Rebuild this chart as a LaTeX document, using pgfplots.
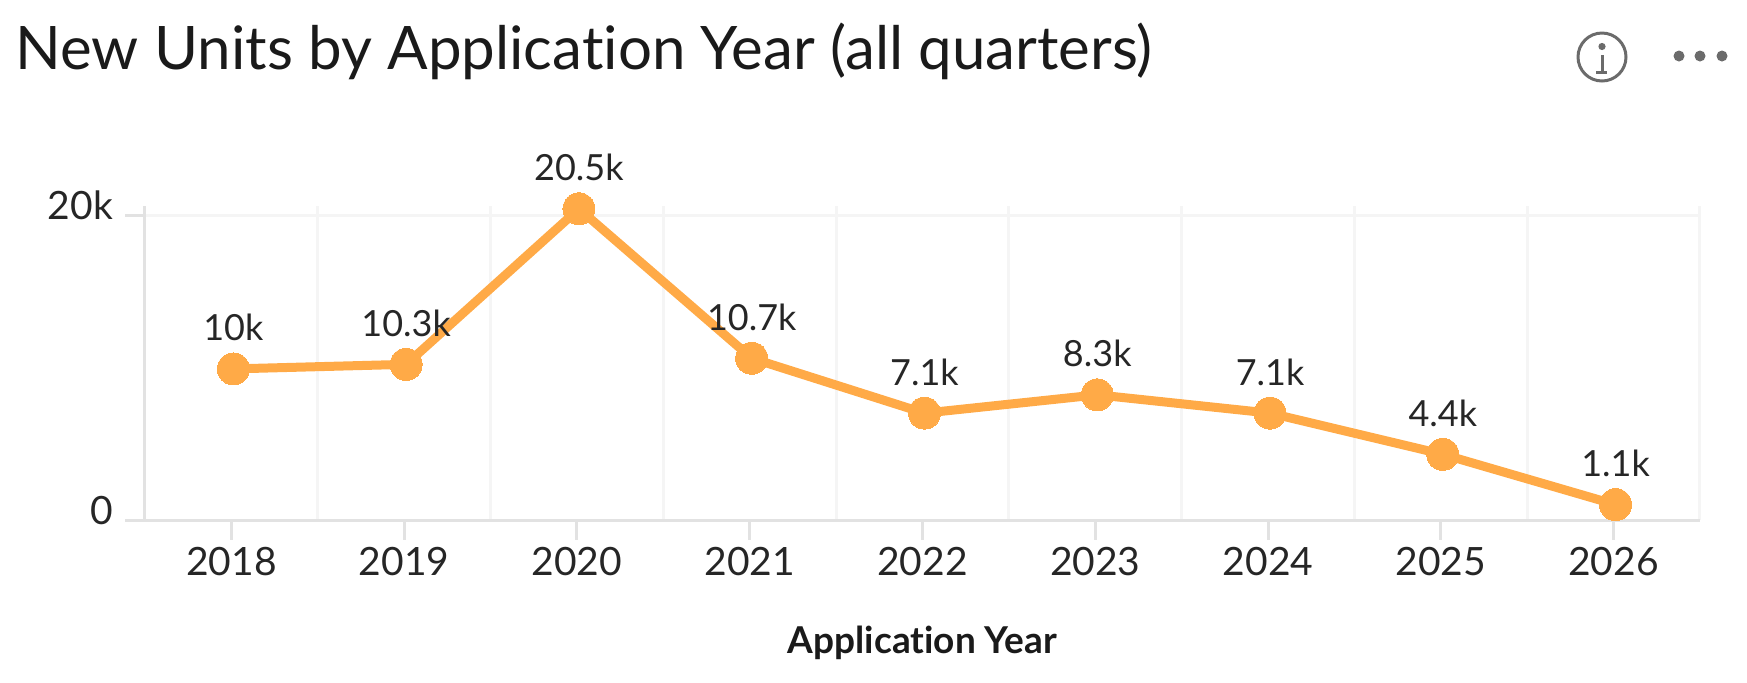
\documentclass[border=0pt]{standalone}
\usepackage{fontspec}
\setmainfont{Lato}[RawFeature=-liga]
\usepackage{pgfplots}
\pgfplotsset{compat=1.18}

\definecolor{lineorange}{HTML}{FFAA47}
\definecolor{axisgray}{HTML}{E2E2E2}
\definecolor{gridgray}{HTML}{F5F5F5}
\definecolor{textdark}{HTML}{1A1A1A}
\definecolor{labeldark}{HTML}{262626}
\definecolor{icongray}{HTML}{6B6B6B}

\begin{document}
% 1 px of the reference = 0.5pt, y runs downwards in the picture coordinates
\begin{tikzpicture}[x=0.5pt, y=-0.5pt]
    \useasboundingbox (0,0) rectangle (1747,682);
    \begin{axis}[
        at={(72.5pt,-260pt)}, anchor=south west,
        scale only axis=true, width=777.5pt, height=157pt,
        xmin=-0.5, xmax=8.5, ymin=0, ymax=20590,
        axis x line=bottom, axis y line=left,
        axis line style={draw=axisgray, line width=1.5pt, -},
        xtick={0,1,2,3,4,5,6,7,8},
        xticklabels={2018,2019,2020,2021,2022,2023,2024,2025,2026},
        minor xtick={0.5,1.5,2.5,3.5,4.5,5.5,6.5,7.5,8.5},
        ytick={0,20000},
        yticklabels={0,20k},
        scaled y ticks=false,
        tick align=outside,
        major tick length=10pt, minor tick length=0pt,
        major tick style={draw=axisgray, line width=1.5pt},
        xminorgrids=true, ymajorgrids=true,
        minor grid style={draw=gridgray, line width=1.5pt},
        major grid style={draw=gridgray, line width=1.5pt},
        tick label style={font=\fontsize{19.5}{20}\selectfont, text=labeldark},
        x tick label style={anchor=base, yshift=-17.5pt},
        y tick label style={anchor=base east, yshift=-2pt, xshift=-2.5pt},
        title={New Units by Application Year (all quarters)},
        title style={at={(axis description cs:-0.0835,1.395)}, anchor=base west,
            font=\fontsize{30}{32}\selectfont, text=textdark, inner sep=0pt},
        xlabel={\textbf{Application Year}},
        xlabel style={at={(axis description cs:0.5,-0.4236)}, anchor=base,
            font=\fontsize{18.5}{20}\selectfont, text=textdark, inner sep=0pt},
        clip=false,
    ]
    \addplot[lineorange, line width=4.5pt, xshift=1pt, yshift=-0.7pt,
        mark=*, mark size=8pt, mark options={line width=0pt, fill=lineorange},
        point meta=explicit symbolic,
        nodes near coords,
        every node near coord/.style={anchor=base, yshift=14pt, inner sep=0pt,
            font=\fontsize{18}{20}\selectfont, text=labeldark},
    ] table[x=idx, y=units, meta=lbl] {
        idx units lbl
        0 10000 10k
        1 10300 10.3k
        2 20500 20.5k
        3 10700 10.7k
        4 7100 7.1k
        5 8300 8.3k
        6 7100 7.1k
        7 4400 4.4k
        8 1100 1.1k
    };
    \end{axis}
    % info icon and menu dots, top right
    \draw[icongray, line width=1.5pt] (1602,57) circle[radius=24];
    \fill[icongray] (1602,46.5) circle[radius=3.6];
    \draw[icongray, line width=1.5pt] (1602,55) -- (1602,71);
    \draw[icongray, line width=1.5pt] (1596,72) -- (1607,72);
    \fill[icongray] (1679,56) circle[radius=5.5];
    \fill[icongray] (1700,56) circle[radius=5.5];
    \fill[icongray] (1722,56) circle[radius=5.5];
\end{tikzpicture}
\end{document}
